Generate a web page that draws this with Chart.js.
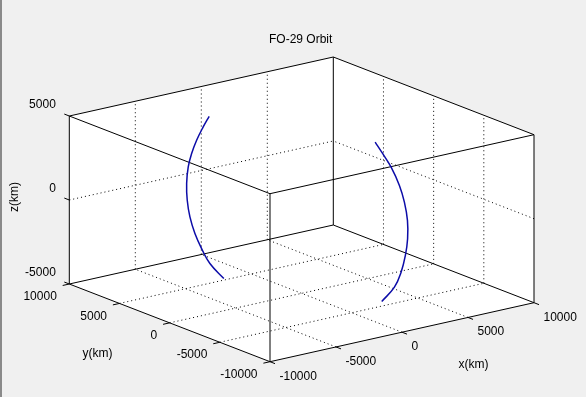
<!DOCTYPE html>
<html>
<head>
<meta charset="utf-8">
<script src="https://cdn.jsdelivr.net/npm/chart.js@4.4.0/dist/chart.umd.min.js"></script>
<style>
  html, body { margin: 0; padding: 0; background: #f0f0f0; }
  #wrap { position: relative; width: 586px; height: 397px; }
  #edge { position: absolute; left: 0; top: 0; width: 2px; height: 397px; background: #8a8a8a; }
</style>
</head>
<body>
<div id="wrap">
  <canvas id="orbit-chart" width="586" height="397"></canvas>
  <div id="edge"></div>
</div>
<script>
// axis ticks (km)
const xTicks = [-10000, -5000, 0, 5000, 10000];
const yTicks = [-10000, -5000, 0, 5000, 10000];
const zTicks = [-5000, 0, 5000];

// first pass (left arc)
const passAX = [-3246, -3457, -3688, -3863, -3982, -4038, -4017, -3923, -3747, -3513, -3222, -2732];
const passAY = [4943, 5264, 5615, 5882, 6064, 6149, 6117, 5973, 5706, 5349, 4906, 4160];
const passAZ = [4968, 4294, 3462, 2640, 1821, 824, -167, -1144, -2102, -2954, -3796, -4603];

// second pass (right arc)
const passBX = [2581, 2847, 3141, 3432, 3607, 3715, 3720, 3642, 3492, 3257, 2812];
const passBY = [-3930, -4336, -4784, -5227, -5493, -5657, -5665, -5546, -5317, -4960, -4282];
const passBZ = [4457, 3814, 3067, 2029, 1065, 0, -1093, -2101, -3121, -4055, -4990];

const xMin = xTicks[0], xMax = xTicks[xTicks.length - 1];
const yMin = yTicks[0], yMax = yTicks[yTicks.length - 1];
const zMin = zTicks[0], zMax = zTicks[zTicks.length - 1];

// view: where the box sits on the page
const front = { x: 270, y: 361.7 };
const uVec = { x: 264, y: -59 };
const vVec = { x: -200.7, y: -77.7 };
const wVec = { x: 0, y: -168 };

function proj(x, y, z) {
    const u = (x - xMin) / (xMax - xMin);
    const v = (y - yMin) / (yMax - yMin);
    const w = (z - zMin) / (zMax - zMin);
    return {
        x: front.x + u * uVec.x + v * vVec.x + w * wVec.x,
        y: front.y + u * uVec.y + v * vVec.y + w * wVec.y
    };
}

function path(xs, ys, zs) {
    return xs.map((x, i) => proj(x, ys[i], zs[i]));
}

function seg(a, b) {
    return [proj(a[0], a[1], a[2]), proj(b[0], b[1], b[2])];
}

// box edges + tick marks
const boxSegs = [];
[yMin, yMax].forEach(y => [zMin, zMax].forEach(z => boxSegs.push(seg([xMin, y, z], [xMax, y, z]))));
[xMin, xMax].forEach(x => [zMin, zMax].forEach(z => boxSegs.push(seg([x, yMin, z], [x, yMax, z]))));
[xMin, xMax].forEach(x => [yMin, yMax].forEach(y => boxSegs.push(seg([x, y, zMin], [x, y, zMax]))));

const tk = 0.025;
xTicks.forEach(x => boxSegs.push(seg([x, yMin, zMin], [x, yMin - tk * (yMax - yMin), zMin])));
yTicks.forEach(y => boxSegs.push(seg([xMin, y, zMin], [xMin - tk * (xMax - xMin), y, zMin])));
zTicks.forEach(z => boxSegs.push(seg([xMin, yMax, z], [xMin, yMax + tk * (yMax - yMin), z])));

// dotted grid on the back walls and floor
const gridSegs = [];
const inner = t => t.slice(1, -1);
inner(xTicks).forEach(x => {
    gridSegs.push(seg([x, yMin, zMin], [x, yMax, zMin]));
    gridSegs.push(seg([x, yMax, zMin], [x, yMax, zMax]));
});
inner(yTicks).forEach(y => {
    gridSegs.push(seg([xMin, y, zMin], [xMax, y, zMin]));
    gridSegs.push(seg([xMax, y, zMin], [xMax, y, zMax]));
});
inner(zTicks).forEach(z => {
    gridSegs.push(seg([xMin, yMax, z], [xMax, yMax, z]));
    gridSegs.push(seg([xMax, yMin, z], [xMax, yMax, z]));
});

const datasets = [];

[path(passAX, passAY, passAZ), path(passBX, passBY, passBZ)].forEach(d => {
    datasets.push({
        data: d,
        showLine: true,
        borderColor: '#0c0ca8',
        borderWidth: 1.5,
        pointRadius: 0,
        tension: 0.4,
        order: 0
    });
});

boxSegs.forEach(d => {
    datasets.push({
        data: d,
        showLine: true,
        borderColor: '#000000',
        borderWidth: 1,
        pointRadius: 0,
        order: 1
    });
});

gridSegs.forEach(d => {
    datasets.push({
        data: d,
        showLine: true,
        borderColor: '#000000',
        borderWidth: 1,
        borderDash: [1, 3],
        pointRadius: 0,
        order: 2
    });
});

const font = '12px "Liberation Sans", Arial, sans-serif';

const boxPlugin = {
    id: 'box3d',
    beforeDatasetsDraw(chart) {
        const ctx = chart.ctx;
        const sx = chart.scales.x, sy = chart.scales.y;
        const hex = [
            proj(xMin, yMax, zMax), proj(xMax, yMax, zMax), proj(xMax, yMin, zMax),
            proj(xMax, yMin, zMin), proj(xMin, yMin, zMin), proj(xMin, yMax, zMin)
        ];
        ctx.save();
        ctx.fillStyle = '#ffffff';
        ctx.beginPath();
        hex.forEach((p, i) => {
            const px = sx.getPixelForValue(p.x), py = sy.getPixelForValue(p.y);
            if (i === 0) ctx.moveTo(px, py); else ctx.lineTo(px, py);
        });
        ctx.closePath();
        ctx.fill();
        ctx.restore();
    },
    afterDatasetsDraw(chart) {
        const ctx = chart.ctx;
        const sx = chart.scales.x, sy = chart.scales.y;
        const px = p => ({ x: sx.getPixelForValue(p.x), y: sy.getPixelForValue(p.y) });
        ctx.save();
        ctx.font = font;
        ctx.fillStyle = '#000000';
        ctx.textBaseline = 'middle';

        ctx.textAlign = 'right';
        zTicks.forEach(z => {
            const p = px(proj(xMin, yMax, z));
            ctx.fillText(String(z), p.x - 13.5, p.y - 11);
        });
        yTicks.forEach(y => {
            const p = px(proj(xMin, y, zMin));
            ctx.fillText(String(y), p.x - 12.5, p.y + 12.8);
        });
        ctx.textAlign = 'left';
        xTicks.forEach(x => {
            const p = px(proj(x, yMin, zMin));
            ctx.fillText(String(x), p.x + 9.5, p.y + 14.5);
        });

        ctx.textAlign = 'center';
        ctx.fillText('FO-29 Orbit', 300.7, 39.5);
        ctx.fillText('x(km)', 473.5, 364.5);
        ctx.fillText('y(km)', 97.5, 353.5);
        ctx.translate(15, 197);
        ctx.rotate(-Math.PI / 2);
        ctx.fillText('z(km)', 0, 0);
        ctx.restore();
    }
};

new Chart(document.getElementById('orbit-chart'), {
    type: 'scatter',
    data: { datasets: datasets },
    options: {
        responsive: false,
        animation: false,
        events: [],
        layout: { padding: 0 },
        scales: {
            x: { type: 'linear', min: 0, max: 586, display: false },
            y: { type: 'linear', min: 0, max: 397, reverse: true, display: false }
        },
        plugins: {
            legend: { display: false },
            tooltip: { enabled: false }
        }
    },
    plugins: [boxPlugin]
});
</script>
</body>
</html>
